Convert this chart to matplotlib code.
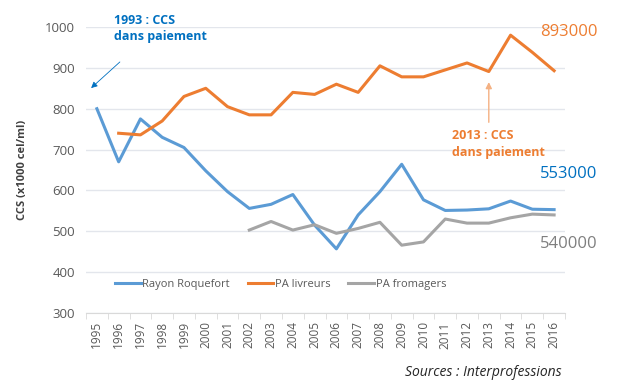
import matplotlib
matplotlib.use("Agg")
import matplotlib.pyplot as plt
import numpy as np

years = [str(y) for y in range(1995, 2017)]
rayon = [800, 670, 775, 730, 705, 648, 597, 556, 566, 590, 515, 457, 540, 597, 664,
         577, 551, 552, 555, 574, 554, 553]
livreurs = [None, 740, 736, 770, 830, 850, 805, 785, 785, 840, 835, 860, 840, 905, 878,
            878, 895, 912, 891, 980, 938, 893]
fromagers = [None] * 7 + [503, 524, 503, 516, 495, 507, 522, 466, 474, 530, 520, 520,
                          533, 542, 540]
series_names = ["Rayon Roquefort", "PA livreurs", "PA fromagers"]
end_labels = ["553000", "893000", "540000"]
yticks = [300, 400, 500, 600, 700, 800, 900, 1000]

plt.rcParams['font.family'] = ['Open Sans', 'DejaVu Sans']

fig = plt.figure(figsize=(6.43, 3.91), dpi=100)
ax = fig.add_axes([86/643, 1-313/391, 479/643, (313-27)/391])

x = np.arange(len(years))
blue, orange, gray = "#5B9BD5", "#ED7D31", "#A5A5A5"

def arr(v):
    return np.array([np.nan if a is None else a for a in v], dtype=float)

ax.plot(x, arr(rayon), color=blue, lw=2.2, label=series_names[0])
ax.plot(x, arr(livreurs), color=orange, lw=2.2, label=series_names[1])
ax.plot(x, arr(fromagers), color=gray, lw=2.2, label=series_names[2])

ax.set_xlim(-0.5, len(years) - 0.5)
ax.set_ylim(300, 1000)
ax.set_yticks(yticks)
ax.set_xticks(x)
ax.set_xticklabels(years, rotation=90, fontsize=8.5, color="#595959")
ax.tick_params(axis='x', length=0, pad=6)
ax.set_xticks(np.arange(-0.5, len(years)), minor=True)
ax.tick_params(axis='x', which='minor', length=4, color="#D9D9D9")
ax.tick_params(axis='y', length=0, labelsize=9.5, labelcolor="#595959", pad=8)
ax.grid(axis='y', color="#E3E6EC", lw=1)
for s in ['top', 'right', 'left']:
    ax.spines[s].set_visible(False)
ax.spines['bottom'].set_color("#D9D9D9")
ax.set_axisbelow(True)

ax.set_ylabel("CCS (x1000 cel/ml)", fontsize=8, fontweight='bold', color="#404040", labelpad=12)

leg = ax.legend(ncol=3, frameon=False, loc='lower left', bbox_to_anchor=(0.04, 0.045),
                fontsize=8, handlelength=2.3, columnspacing=1.6, handletextpad=0.15)
for t in leg.get_texts():
    t.set_color("#595959")

# End labels
xe = 20.35
ax.text(xe, 988, end_labels[1], color=orange, fontsize=12, va='center')
ax.text(xe, 640, end_labels[0], color="#0070C0", fontsize=12, va='center')
ax.text(xe, 470, end_labels[2], color="#7F7F7F", fontsize=12, va='center')

# Annotations
ax.text(0.8, 996, "1993 : CCS\ndans paiement", color="#0070C0", fontsize=9,
        fontweight='bold', va='center', linespacing=1.35)
ax.annotate("", xy=(-0.36, 846), xytext=(1.15, 919),
            arrowprops=dict(arrowstyle="-|>", color="#0070C0", lw=0.6, mutation_scale=9),
            annotation_clip=False)
ax.text(16.3, 714, "2013 : CCS\ndans paiement", color=orange, fontsize=9,
        fontweight='bold', va='center', linespacing=1.35)
ax.annotate("", xy=(18, 872), xytext=(18, 760),
            arrowprops=dict(arrowstyle="-|>", color="#F4B183", lw=1.0, mutation_scale=9))

fig.text(562/643, 1-373/391, "Sources : Interprofessions", style='italic', fontsize=10,
         ha='right', va='center', color="#262626")

fig.savefig("out.png", dpi=100)
